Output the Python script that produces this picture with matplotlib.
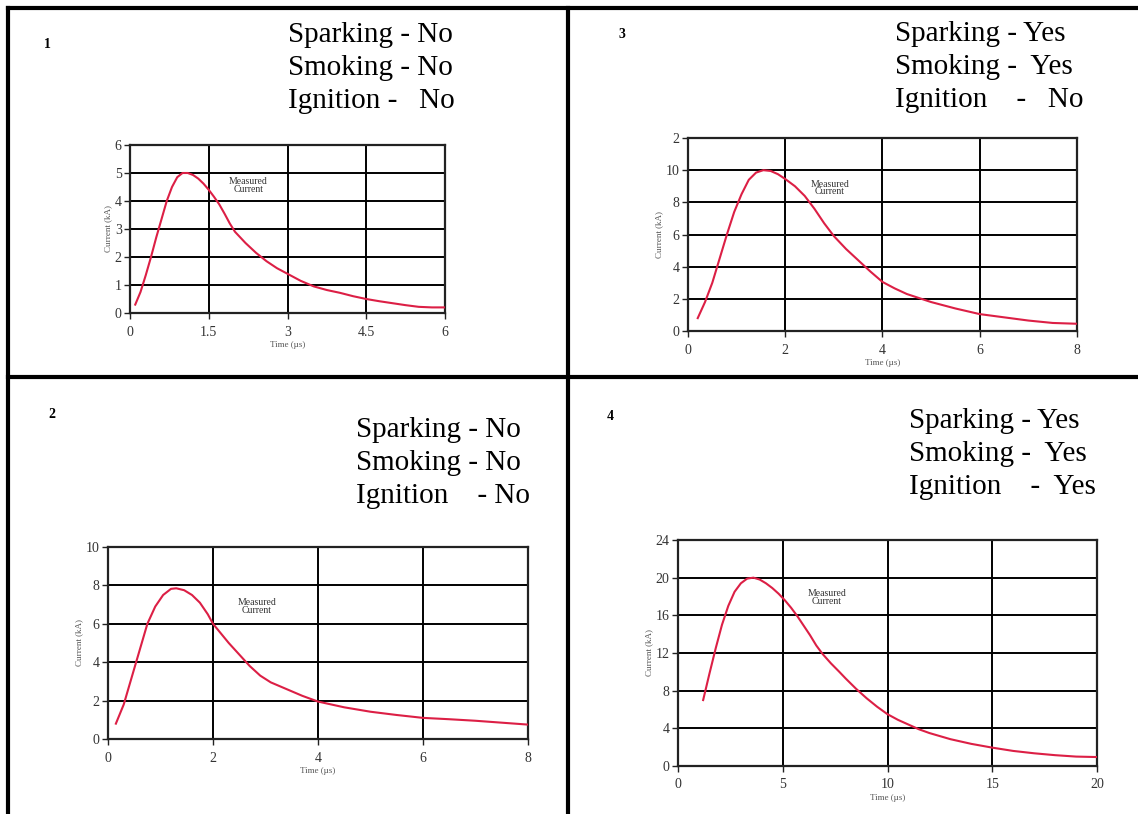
import numpy as np
import matplotlib
matplotlib.use("Agg")
import matplotlib.pyplot as plt

# data ------------------------------------------------------
t1 = [0.1, 0.2, 0.3, 0.4, 0.5, 0.6, 0.7, 0.8, 0.9, 1.0, 1.1, 1.2, 1.3, 1.4, 1.5, 1.6, 1.7, 1.8, 1.9, 2.0,
      2.2, 2.4, 2.6, 2.8, 3.0, 3.25, 3.5, 3.75, 4.0, 4.25, 4.5, 4.75, 5.0, 5.25, 5.5, 5.75, 6.0]
i1 = [0.3, 0.75, 1.35, 2.0, 2.7, 3.35, 4.0, 4.5, 4.85, 5.0, 5.0, 4.93, 4.8, 4.62, 4.4, 4.15, 3.88, 3.55, 3.2, 2.9,
      2.5, 2.15, 1.85, 1.6, 1.4, 1.15, 0.95, 0.82, 0.72, 0.6, 0.5, 0.42, 0.35, 0.28, 0.22, 0.2, 0.2]

t2 = [0.15, 0.3, 0.45, 0.6, 0.75, 0.9, 1.05, 1.2, 1.3, 1.45, 1.6, 1.75, 1.9, 2.0, 2.15, 2.3, 2.5, 2.7, 2.9,
      3.1, 3.4, 3.7, 4.0, 4.5, 5.0, 5.5, 6.0, 6.5, 7.0, 7.5, 8.0]
i2 = [0.8, 1.8, 3.2, 4.6, 6.0, 6.9, 7.5, 7.82, 7.85, 7.75, 7.5, 7.1, 6.5, 6.0, 5.5, 5.0, 4.4, 3.8, 3.3,
      2.95, 2.6, 2.25, 1.95, 1.65, 1.42, 1.25, 1.1, 1.03, 0.95, 0.85, 0.75]

t3 = [0.2, 0.35, 0.5, 0.65, 0.8, 0.95, 1.1, 1.25, 1.4, 1.55, 1.7, 1.85, 2.0, 2.2, 2.4, 2.6, 2.8, 3.0,
      3.25, 3.5, 3.75, 4.0, 4.25, 4.5, 4.75, 5.0, 5.5, 6.0, 6.5, 7.0, 7.5, 8.0]
i3 = [0.8, 1.8, 3.0, 4.5, 6.0, 7.4, 8.5, 9.4, 9.85, 10.0, 9.95, 9.75, 9.45, 9.0, 8.4, 7.6, 6.7, 5.9,
      5.1, 4.4, 3.7, 3.05, 2.65, 2.3, 2.05, 1.8, 1.4, 1.05, 0.85, 0.65, 0.5, 0.45]

t4 = [1.2, 1.5, 1.8, 2.1, 2.4, 2.7, 3.0, 3.3, 3.6, 3.9, 4.2, 4.5, 4.8, 5.1, 5.4, 5.7, 6.0, 6.3, 6.6, 6.9,
      7.3, 7.7, 8.0, 8.5, 9.0, 9.5, 10.0, 10.5, 11.0, 11.5, 12.0, 13.0, 14.0, 15.0, 16.0, 17.0, 18.0, 19.0, 20.0]
i4 = [7.0, 9.8, 12.5, 15.0, 17.0, 18.5, 19.4, 19.9, 20.0, 19.8, 19.4, 18.9, 18.3, 17.6, 16.8, 15.9, 14.9, 13.9, 12.8, 11.9,
      10.9, 10.0, 9.3, 8.2, 7.2, 6.3, 5.5, 4.9, 4.4, 3.9, 3.5, 2.85, 2.35, 1.95, 1.6, 1.35, 1.15, 1.0, 0.95]

xt1 = [0, 1.5, 3, 4.5, 6]
xl1 = ["0", "1.5", "3", "4.5", "6"]
yt1 = [0, 1, 2, 3, 4, 5, 6]
xt2 = [0, 2, 4, 6, 8]
yt2 = [0, 2, 4, 6, 8, 10]
xt3 = [0, 2, 4, 6, 8]
yt3 = [0, 2, 4, 6, 8, 10, 12]
yl3 = ["0", "2", "4", "6", "8", "10", "2"]
xt4 = [0, 5, 10, 15, 20]
yt4 = [0, 4, 8, 12, 16, 20, 24]

status1 = ["Sparking - No", "Smoking - No", "Ignition -   No"]
status2 = ["Sparking - No", "Smoking - No", "Ignition    - No"]
status3 = ["Sparking - Yes", "Smoking -  Yes", "Ignition    -   No"]
status4 = ["Sparking - Yes", "Smoking -  Yes", "Ignition    -  Yes"]

W, H = 1138, 814
fig = plt.figure(figsize=(W / 100, H / 100), dpi=100)
fig.patch.set_facecolor("white")

serif = ["Liberation Serif", "DejaVu Serif"]
curve_col = "#dc1f45"


def px_rect(l, t, r, b):
    return [l / W, 1 - b / H, (r - l) / W, (b - t) / H]


def fig_line(x0, y0, x1, y1, lw=3):
    fig.add_artist(plt.Line2D([x0 / W, x1 / W], [1 - y0 / H, 1 - y1 / H],
                              color="black", lw=lw, transform=fig.transFigure))


def make_panel(rect, t, i, xt, yt, xlim, ylim, ann_xy, xlabels=None, ylabels=None):
    ax = fig.add_axes(px_rect(*rect))
    ax.set_xlim(*xlim)
    ax.set_ylim(*ylim)
    ax.set_xticks(xt)
    ax.set_yticks(yt)
    if xlabels is not None:
        ax.set_xticklabels(xlabels)
    if ylabels is not None:
        ax.set_yticklabels(ylabels)
    ax.grid(True, color="black", lw=1.4)
    for s in ax.spines.values():
        s.set_color("#222222")
        s.set_linewidth(1.6)
    ax.tick_params(direction="out", length=4, width=1, colors="#222222",
                   labelsize=10, pad=2)
    ax.tick_params(axis="x", pad=5)
    for lab in ax.get_xticklabels() + ax.get_yticklabels():
        lab.set_family(serif)
        lab.set_color("#333333")
    ax.plot(t, i, color=curve_col, lw=1.5, zorder=3)
    ax.text(ann_xy[0], ann_xy[1], "Measured\nCurrent", ha="center", va="center",
            fontsize=7, family=serif, color="#333333", linespacing=0.8)
    ax.set_xlabel("Time (µs)", fontsize=6.5, family=serif, color="#555555", labelpad=2)
    ax.set_ylabel("Current (kA)", fontsize=6.5, family=serif, color="#555555", labelpad=2)
    return ax


make_panel((130, 145, 445, 313), t1, i1, xt1, yt1, (0, 6), (0, 6), (2.25, 4.55), xlabels=xl1)
make_panel((688, 138, 1077, 331), t3, i3, xt3, yt3, (0, 8), (0, 12), (2.92, 8.9), ylabels=yl3)
make_panel((108, 547, 528, 739), t2, i2, xt2, yt2, (0, 8), (0, 10), (2.84, 6.9))
make_panel((678, 540, 1097, 766), t4, i4, xt4, yt4, (0, 20), (0, 24), (7.1, 17.9))


def status_text(x, y0, lines):
    for k, s in enumerate(lines):
        fig.text(x / W, 1 - (y0 + 33 * k) / H, s, ha="left", va="center",
                 fontsize=21, family=serif, color="black")


status_text(288, 35, status1)
status_text(895, 34, status3)
status_text(356, 430, status2)
status_text(909, 421, status4)

for num, (x, y) in zip(["1", "3", "2", "4"], [(47, 45), (622, 35), (52, 414), (610, 416)]):
    fig.text(x / W, 1 - y / H, num, ha="center", va="center", fontsize=10,
             family=serif, fontweight="bold")

# panel borders
fig_line(8, 8, W, 8)
fig_line(8, 8, 8, H)
fig_line(568, 8, 568, H)
fig_line(8, 377, W, 377)

fig.savefig("out.png", dpi=100)
